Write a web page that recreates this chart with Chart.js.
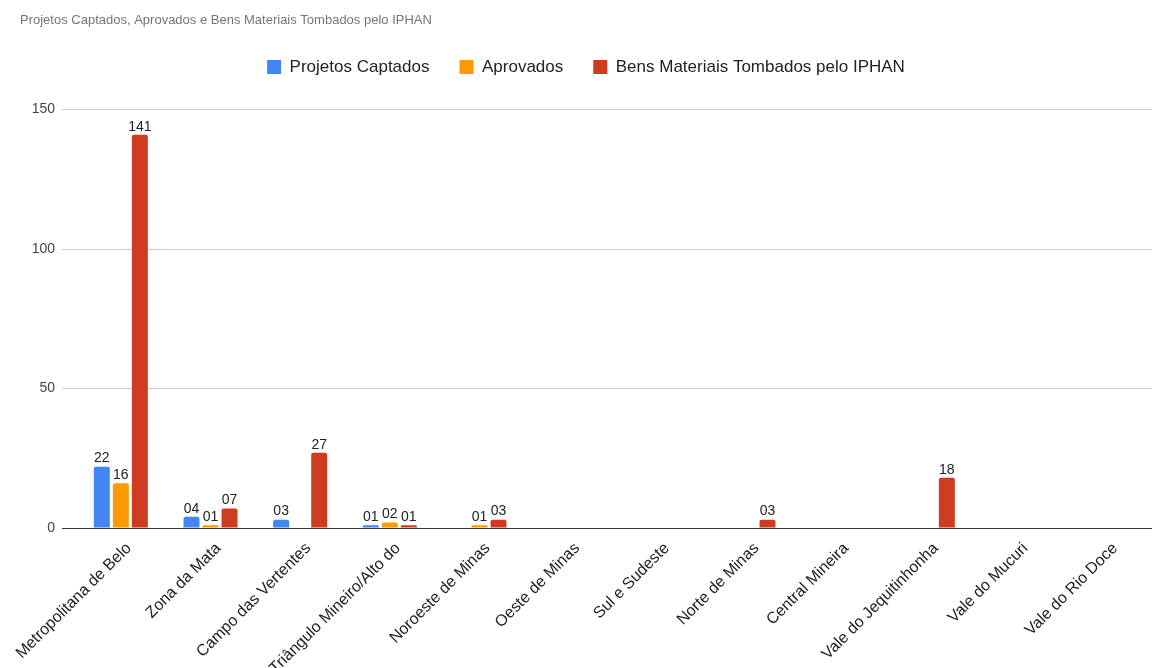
<!DOCTYPE html>
<html>
<head>
<meta charset="utf-8">
<script src="https://cdn.jsdelivr.net/npm/chart.js@4/dist/chart.umd.min.js"></script>
<style>
  html, body { margin: 0; padding: 0; background: #fff; }
  #wrap { width: 1152px; height: 668px; position: relative; }
</style>
</head>
<body>
<div id="wrap"><canvas id="chart"></canvas></div>
<script>
const regioes = [
  'Metropolitana de Belo', 'Zona da Mata', 'Campo das Vertentes', 'Triângulo Mineiro/Alto do',
  'Noroeste de Minas', 'Oeste de Minas', 'Sul e Sudeste', 'Norte de Minas',
  'Central Mineira', 'Vale do Jequitinhonha', 'Vale do Mucuri', 'Vale do Rio Doce'
];
const captados = [22, 4, 3, 1, null, null, null, null, null, null, null, null];
const aprovados = [16, 1, null, 2, 1, null, null, null, null, null, null, null];
const tombados = [141, 7, 27, 1, 3, null, null, 3, null, 18, null, null];
const yTicks = [0, 50, 100, 150];

const FONT = "'Liberation Sans', Arial, sans-serif";

// values above each bar, zero padded ("04", "141")
const valueLabels = {
  id: 'valueLabels',
  afterDatasetsDraw(chart) {
    const ctx = chart.ctx;
    ctx.save();
    ctx.font = '14px ' + FONT;
    ctx.fillStyle = '#222';
    ctx.textAlign = 'center';
    ctx.textBaseline = 'bottom';
    chart.data.datasets.forEach((ds, i) => {
      const meta = chart.getDatasetMeta(i);
      meta.data.forEach((bar, j) => {
        const v = ds.data[j];
        if (v === null || v === undefined) return;
        ctx.fillText(String(v).padStart(2, '0'), bar.x, bar.y - 1);
      });
    });
    ctx.restore();
  }
};

// extra room under the legend
const legendGap = {
  id: 'legendGap',
  beforeInit(chart) {
    const fit = chart.legend.fit;
    chart.legend.fit = function () {
      fit.bind(chart.legend)();
      this.height += 24;
    };
  }
};

const series = [
  { label: 'Projetos Captados', data: captados, color: '#4285f4' },
  { label: 'Aprovados', data: aprovados, color: '#ff9900' },
  { label: 'Bens Materiais Tombados pelo IPHAN', data: tombados, color: '#cf3b1f' }
];

new Chart(document.getElementById('chart'), {
  type: 'bar',
  data: {
    labels: regioes,
    datasets: series.map(s => ({
      label: s.label,
      data: s.data,
      backgroundColor: s.color,
      borderColor: s.color,
      borderWidth: 0,
      borderRadius: { topLeft: 2, topRight: 2 },
      borderSkipped: 'start',
      categoryPercentage: 0.636,
      barPercentage: 0.84
    }))
  },
  options: {
    responsive: true,
    maintainAspectRatio: false,
    animation: false,
    layout: { padding: { left: 20, right: 0, top: 0, bottom: 0 } },
    plugins: {
      title: {
        display: true,
        text: 'Projetos Captados, Aprovados e Bens Materiais Tombados pelo IPHAN',
        align: 'start',
        color: '#757575',
        font: { family: FONT, size: 13, weight: 'normal' },
        padding: { top: 13, bottom: 0 }
      },
      legend: {
        position: 'top',
        labels: {
          color: '#222',
          font: { family: FONT, size: 17 },
          boxWidth: 14,
          boxHeight: 14,
          padding: 30
        }
      },
      tooltip: { enabled: false }
    },
    scales: {
      x: {
        grid: { display: false },
        border: { display: false },
        ticks: {
          color: '#222',
          font: { family: FONT, size: 16 },
          minRotation: 45,
          maxRotation: 45,
          autoSkip: false,
          labelOffset: 8
        },
        afterFit(scale) { scale.height = 140; }
      },
      y: {
        min: 0,
        max: 150,
        afterBuildTicks(scale) { scale.ticks = yTicks.map(v => ({ value: v })); },
        grid: {
          color: ctx => ctx.tick && ctx.tick.value === 0 ? '#333' : '#cccccc',
          lineWidth: 1,
          tickLength: 14
        },
        border: { display: false },
        ticks: {
          color: '#444',
          font: { family: FONT, size: 14 },
          padding: 7
        },
        afterFit(scale) { scale.width = 56; }
      }
    }
  },
  plugins: [valueLabels, legendGap]
});
</script>
</body>
</html>
